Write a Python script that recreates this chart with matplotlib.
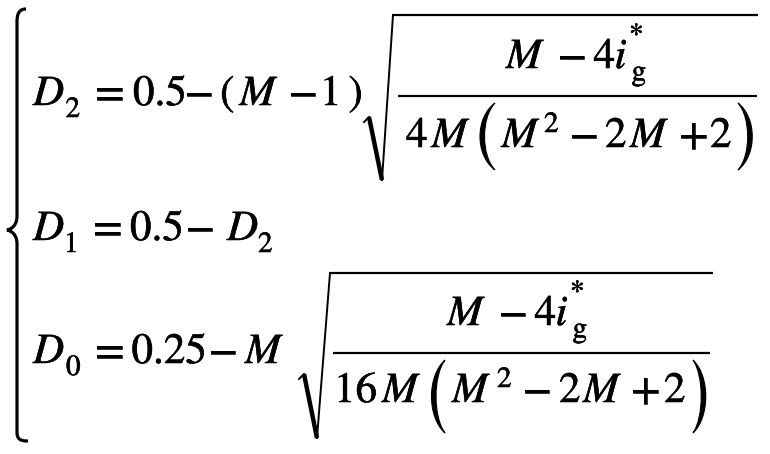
import matplotlib
matplotlib.use("Agg")
import numpy as np
import matplotlib.pyplot as plt
import matplotlib.patheffects as pe
from matplotlib.path import Path
from matplotlib.patches import PathPatch

# Times-like face shipped with matplotlib
plt.rcParams["font.family"] = ["STIXGeneral", "Liberation Serif", "DejaVu Serif"]

# equation pieces (text only), three rows of the system
FS = 31     # main size
SS = 21     # sub/superscript size

# row strings: (text, italic)
row1_left = [("D", True), ("=", False), ("0.5", False), ("\u2212", False), ("(", False),
             ("M", True), ("\u2212", False), ("1", False), (")", False)]
row2_left = [("D", True), ("=", False), ("0.5", False), ("\u2212", False), ("D", True)]
row3_left = [("D", True), ("=", False), ("0.25", False), ("\u2212", False), ("M", True)]
num_tokens = [("M", True), ("\u2212", False), ("4", False), ("i", True)]
den1_tokens = [("4", False), ("M", True), ("M", True), ("\u2212", False), ("2", False),
               ("M", True), ("+", False), ("2", False)]
den3_tokens = [("16", False), ("M", True), ("M", True), ("\u2212", False), ("2", False),
               ("M", True), ("+", False), ("2", False)]

# ink centres (px)
row1_x = [48, 110, 159, 200, 227.5, 258, 303.5, 331, 355.5]
row2_x = [48, 107.5, 156, 200.5, 242]
row3_x = [48, 110, 168.5, 223.5, 263.5]
num1_x = [524.5, 572.5, 604, 621.5]
num3_x = [465.5, 513.5, 545, 562.5]
den1_x = [416.5, 450, 520, 585, 616, 648.5, 693.5, 721]
den3_x = [357.5, 400.5, 470.5, 537.5, 570, 601.5, 645.5, 675]

heavier = [pe.withStroke(linewidth=0.4, foreground="black")]

# measure where the ink of each glyph really sits relative to its origin
_ink = {}


def ink_centre(s, size, italic):
    key = (s, size, italic)
    if key not in _ink:
        f = plt.figure(figsize=(3, 2), dpi=100)
        f.text(50, 120, s, transform=None, fontsize=size, ha="left", va="baseline",
               style="italic" if italic else "normal", path_effects=heavier)
        f.canvas.draw()
        img = np.asarray(f.canvas.buffer_rgba())[:, :, 0]
        cols = np.where((img < 128).any(axis=0))[0]
        _ink[key] = (cols.min() + cols.max() + 1) / 2 - 50
        plt.close(f)
    return _ink[key]


fig = plt.figure(figsize=(7.7, 4.54), dpi=100)
ax = fig.add_axes([0, 0, 1, 1])
ax.set_xlim(0, 770)
ax.set_ylim(454, 0)
ax.axis("off")


def put(x, y, s, size=FS, italic=False):
    dx = ink_centre(s, size, italic)
    ax.text(x - dx, y, s, fontsize=size, style="italic" if italic else "normal",
            ha="left", va="baseline", color="black", path_effects=heavier)


def row(tokens, xs, y):
    for (s, it), x in zip(tokens, xs):
        put(x, y, s, italic=it)


def hline(x0, x1, y, lw=1.6):
    ax.plot([x0, x1], [y, y], color="black", lw=lw, solid_capstyle="butt")


def radical(x0, y0, xb, yb, xt, yt, x_end):
    ax.plot([x0 - 5, x0], [y0 + 5, y0], color="black", lw=1.4)
    ax.plot([x0, xb], [y0, yb], color="black", lw=3.2, solid_capstyle="butt")
    ax.plot([xb, xt], [yb, yt], color="black", lw=1.4)
    hline(xt, x_end, yt)


def paren(x0, x1, y0, y1, left=True):
    # crescent shaped big parenthesis
    if left:
        tip, outer, inner = x1, x0, x0 + 6
    else:
        tip, outer, inner = x0, x1, x1 - 6
    h = y1 - y0
    verts = [(tip, y0), (outer, y0 + h * 0.22), (outer, y0 + h * 0.78), (tip, y1),
             (inner, y0 + h * 0.78), (inner, y0 + h * 0.22), (tip, y0), (tip, y0)]
    codes = [Path.MOVETO, Path.CURVE4, Path.CURVE4, Path.CURVE4,
             Path.CURVE4, Path.CURVE4, Path.CURVE4, Path.CLOSEPOLY]
    ax.add_patch(PathPatch(Path(verts, codes), fc="black", ec="black", lw=0.8))


# big left brace
bv = [(26, 9), (19, 9), (17, 14), (17, 22),
      (17, 216),
      (17, 225), (12, 229), (7, 230),
      (12, 231), (17, 235), (17, 244),
      (17, 432),
      (17, 439), (20, 441), (28, 441)]
bc = [Path.MOVETO, Path.CURVE4, Path.CURVE4, Path.CURVE4,
      Path.LINETO,
      Path.CURVE4, Path.CURVE4, Path.CURVE4,
      Path.CURVE4, Path.CURVE4, Path.CURVE4,
      Path.LINETO,
      Path.CURVE4, Path.CURVE4, Path.CURVE4]
ax.add_patch(PathPatch(Path(bv, bc), fc="none", ec="black", lw=2.3))

# row 1: D2 = 0.5 - (M - 1) sqrt(...)
row(row1_left, row1_x, 105)
put(73, 117, "2", SS)
radical(369, 117, 382, 180, 393, 15, 758)
row(num_tokens, num1_x, 68)
put(638.5, 80, "g", SS)
put(636.5, 43, "*", SS)
hline(398, 757, 96)
row(den1_tokens, den1_x, 147)
put(551.5, 132, "2", SS)
paren(475, 495, 103, 170, left=True)
paren(738, 757, 103, 170, left=False)

# row 2: D1 = 0.5 - D2
row(row2_left, row2_x, 240)
put(71.5, 252, "1", SS)
put(265.5, 252, "2", SS)

# row 3: D0 = 0.25 - M sqrt(...)
row(row3_left, row3_x, 363)
put(73, 375, "0", SS)
radical(304, 374, 317, 438, 330, 273, 713)
row(num_tokens, num3_x, 325)
put(579.5, 337, "g", SS)
put(577.5, 300, "*", SS)
hline(333, 710, 353)
row(den3_tokens, den3_x, 402)
put(504.5, 387, "2", SS)
paren(427, 445, 360, 433, left=True)
paren(693, 710, 360, 433, left=False)

fig.savefig("out.png", dpi=100)
